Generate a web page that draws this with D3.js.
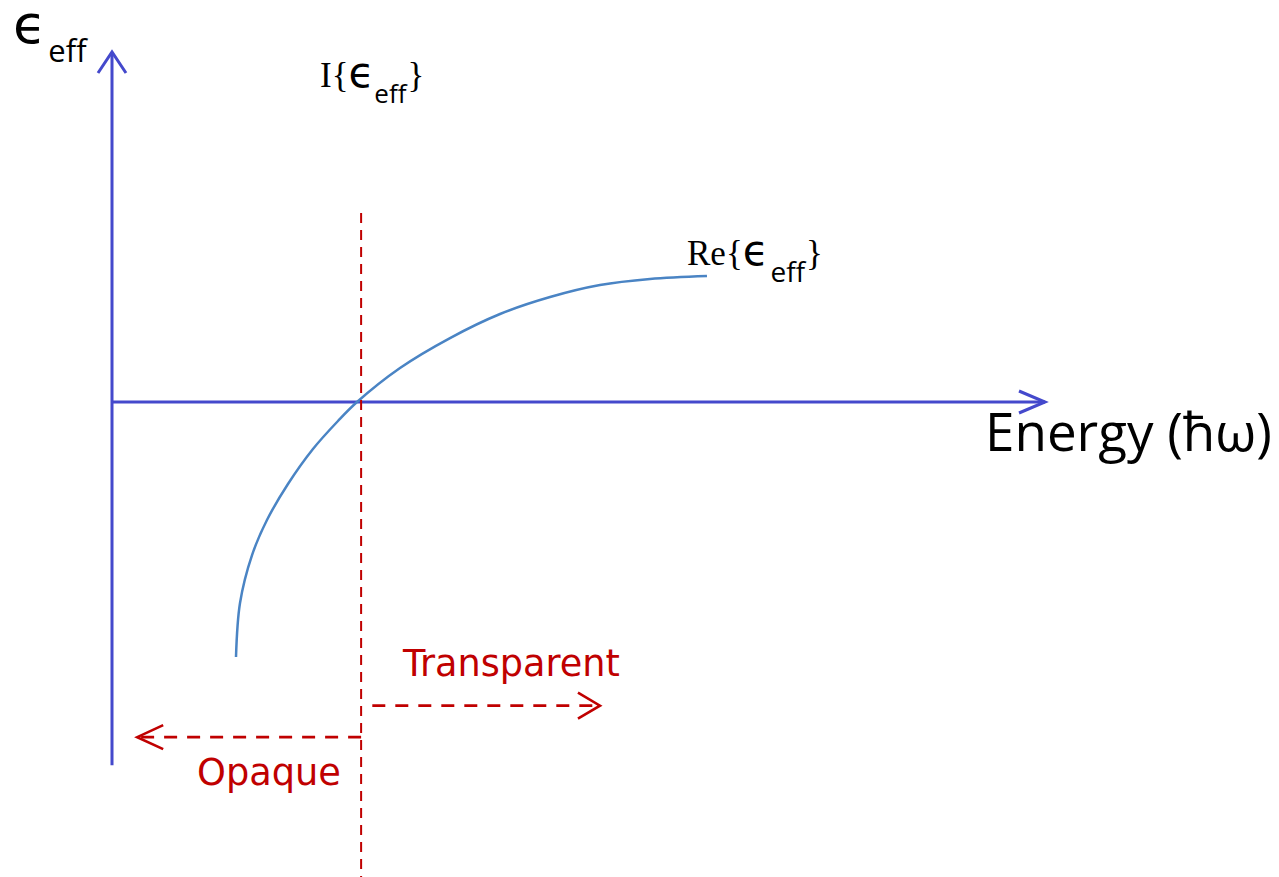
<!DOCTYPE html>
<html>
<head>
<meta charset="utf-8">
<script src="https://cdn.jsdelivr.net/npm/d3@7"></script>
<style>
  html, body { margin: 0; padding: 0; background: #ffffff; }
  svg { display: block; }
</style>
</head>
<body>
<svg id="chart" width="1279" height="877"></svg>
<script>
// ---- data ----
const energy = [1.329, 1.372, 1.501, 1.661, 1.886, 2.154, 2.422, 2.626, 3.087, 3.623, 4.159, 4.695, 5.230, 5.766, 6.377];
const reEps  = [-2.914, -2.297, -1.749, -1.349, -0.937, -0.537, -0.217, 0.000, 0.389, 0.731, 1.006, 1.200, 1.337, 1.406, 1.440];
const plasmaEnergy = 2.67;           // opaque / transparent boundary
const xAxisMax = 10;                 // end of energy axis arrow
const yAxisRange = [-4.15, 4];       // extent of the epsilon axis
const dividerTop = 2.16;             // top of the dashed boundary line
const opaqueArrow = [plasmaEnergy, 0.27, -3.83];       // from, to, level
const transparentArrow = [2.79, 5.23, -3.47];          // from, to, level
const labelTexts = {
  yAxis: ["ϵ", "eff"],
  imag: ["I{", "ϵ", "eff", "}"],
  real: ["Re{", "ϵ", "eff", "}"],
  xAxis: "Energy (ħω)",
  transparent: "Transparent",
  opaque: "Opaque"
};

// ---- layout ----
const svg = d3.select("#chart");
const x = d3.scaleLinear().domain([0, 10]).range([112, 1045]);
const y = d3.scaleLinear().domain([-4, 4]).range([752, 52]);

const blue = "#4449cc";
const curveBlue = "#4a84c4";
const red = "#c00000";
const sans = "'Open Sans', 'DejaVu Sans', sans-serif";
const verdanaLike = "'DejaVu Sans', sans-serif";
const serif = "'Liberation Serif', 'DejaVu Serif', serif";
const epsFont = "'DejaVu Sans', sans-serif";

// axes
const axisG = svg.append("g").attr("stroke", blue).attr("stroke-width", 3).attr("fill", "none");
axisG.append("line")
  .attr("x1", x(0)).attr("x2", x(0))
  .attr("y1", y(yAxisRange[0])).attr("y2", y(yAxisRange[1]));
axisG.append("path")
  .attr("d", `M${x(0) - 14},${y(yAxisRange[1]) + 21} L${x(0)},${y(yAxisRange[1])} L${x(0) + 14},${y(yAxisRange[1]) + 21}`);
axisG.append("line")
  .attr("x1", x(0)).attr("x2", x(xAxisMax))
  .attr("y1", y(0)).attr("y2", y(0));
axisG.append("path")
  .attr("d", `M${x(xAxisMax) - 26},${y(0) - 11} L${x(xAxisMax)},${y(0)} L${x(xAxisMax) - 26},${y(0) + 11}`);

// Re{eps} curve
const line = d3.line()
  .x((d, i) => x(energy[i]))
  .y((d, i) => y(reEps[i]))
  .curve(d3.curveCatmullRom.alpha(0.5));
svg.append("path")
  .datum(reEps)
  .attr("d", line)
  .attr("fill", "none")
  .attr("stroke", curveBlue)
  .attr("stroke-width", 2.5);

// dashed boundary
svg.append("line")
  .attr("x1", x(plasmaEnergy)).attr("x2", x(plasmaEnergy))
  .attr("y1", y(dividerTop)).attr("y2", 877)
  .attr("stroke", red).attr("stroke-width", 2)
  .attr("stroke-dasharray", "10,7");

// dashed arrows
function dashedArrow(from, to, level, head) {
  const g = svg.append("g").attr("stroke", red).attr("fill", "none").attr("stroke-width", 2.6);
  g.append("line")
    .attr("x1", x(from)).attr("x2", x(to))
    .attr("y1", y(level)).attr("y2", y(level))
    .attr("stroke-dasharray", "13,10");
  const dir = Math.sign(x(to) - x(from));
  const tx = x(to), ty = y(level);
  g.append("path")
    .attr("d", `M${tx - dir * head[0]},${ty - head[1]} L${tx},${ty} L${tx - dir * head[0]},${ty + head[1]}`);
}
dashedArrow(opaqueArrow[0], opaqueArrow[1], opaqueArrow[2], [26, 12]);
dashedArrow(transparentArrow[0], transparentArrow[1], transparentArrow[2], [22, 13]);

// ---- labels ----
function fitWidth(sel, target) {
  const w = sel.node().getComputedTextLength();
  const fs = parseFloat(sel.attr("font-size"));
  if (w > 0) sel.attr("font-size", fs * target / w);
  return sel;
}

// y axis label
const yl = svg.append("text").attr("x", 13).attr("y", 43).attr("fill", "#000");
yl.append("tspan").attr("font-family", epsFont).attr("font-size", 54).text(labelTexts.yAxis[0]);
yl.append("tspan").attr("font-family", sans).attr("font-size", 31).attr("dx", 2).attr("dy", 19).text(labelTexts.yAxis[1]);

// I{eps_eff} and Re{eps_eff}
function braceLabel(texts, px, py, size, epsSize, subSize, subDy, gap) {
  const t = svg.append("text").attr("x", px).attr("y", py).attr("fill", "#000");
  t.append("tspan").attr("font-family", serif).attr("font-size", size).text(texts[0]);
  t.append("tspan").attr("font-family", epsFont).attr("font-size", epsSize).attr("dx", 0).text(texts[1]);
  t.append("tspan").attr("font-family", sans).attr("font-size", subSize).attr("dx", gap).attr("dy", subDy).text(texts[2]);
  t.append("tspan").attr("font-family", serif).attr("font-size", size).attr("dx", 1).attr("dy", -subDy).text(texts[3]);
  return t;
}
braceLabel(labelTexts.imag, 320, 87, 35, 42, 26, 16, 0);
braceLabel(labelTexts.real, 687, 265, 35, 42, 28, 17, 2);

// energy axis label
fitWidth(svg.append("text")
  .attr("x", 985).attr("y", 451)
  .attr("font-family", sans).attr("font-size", 50)
  .attr("fill", "#000")
  .text(labelTexts.xAxis), 287);

fitWidth(svg.append("text")
  .attr("x", 403).attr("y", 676)
  .attr("font-family", verdanaLike).attr("font-size", 32)
  .attr("fill", red)
  .text(labelTexts.transparent), 217);

fitWidth(svg.append("text")
  .attr("x", 197).attr("y", 785)
  .attr("font-family", verdanaLike).attr("font-size", 32)
  .attr("fill", red)
  .text(labelTexts.opaque), 144);
</script>
</body>
</html>
